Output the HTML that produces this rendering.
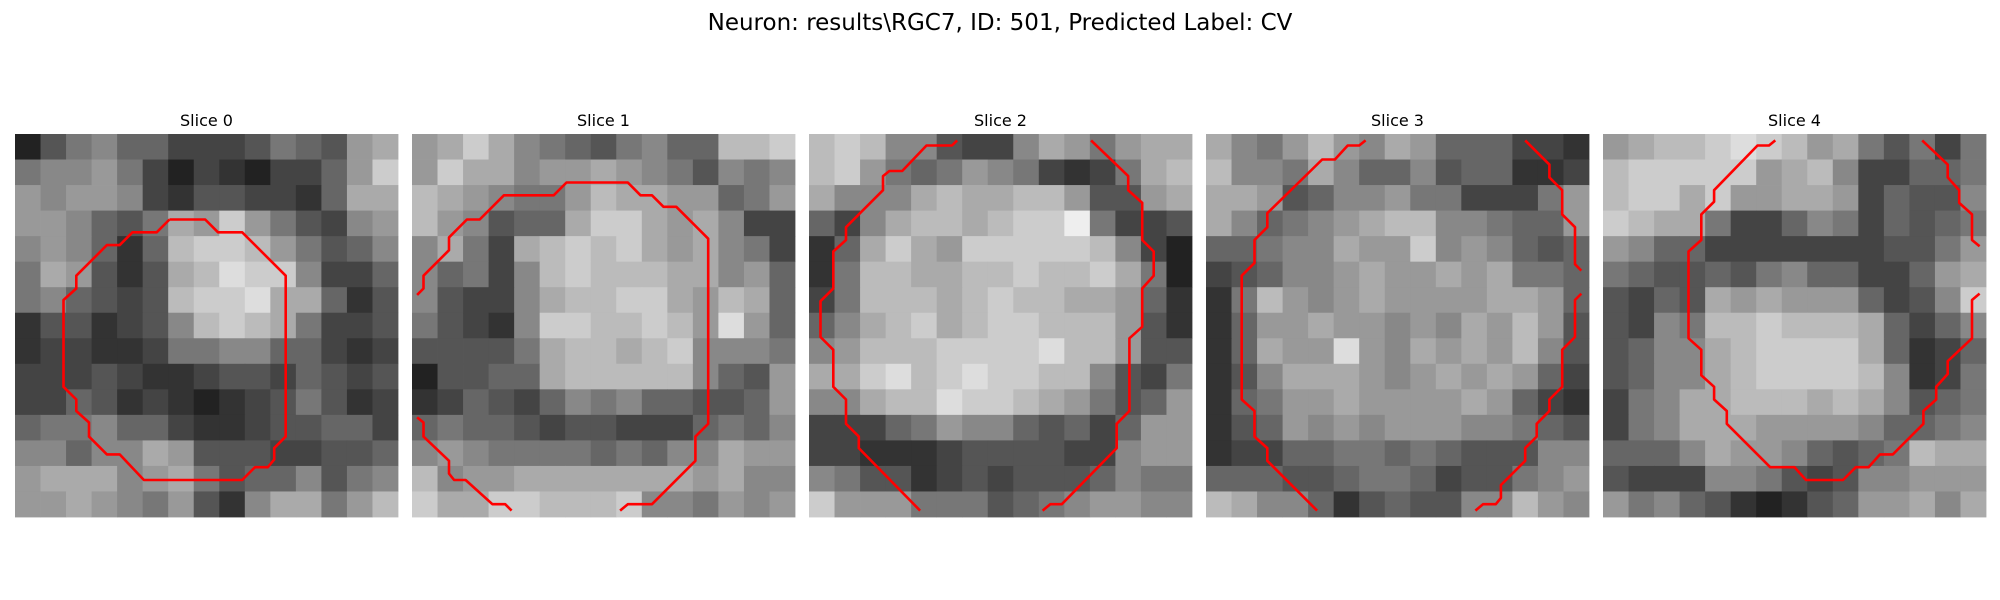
<!DOCTYPE html>
<html><head><meta charset="utf-8"><style>
html,body{margin:0;padding:0;background:#fff;width:2000px;height:600px;overflow:hidden}
svg{display:block}
text{font-family:"DejaVu Sans","Liberation Sans",sans-serif;fill:#000}
</style></head><body>
<svg id="fig" width="2000" height="600" viewBox="0 0 2000 600">
<text x="1000" y="30" text-anchor="middle" font-size="23">Neuron: results\RGC7, ID: 501, Predicted Label: CV</text>
</svg>
<script>
const sliceTitles = ["Slice 0","Slice 1","Slice 2","Slice 3","Slice 4"];
const img0 = ["25786644457659a","78897424324469c","9899843554436aa","998657a9c975489","898636bccb97568","7a9535abdcc8446","786545bccdaa635","3553458bcba7445","344334778866434","444543345546545","446534323457534","677866433455664","88688a955544556","9aaa89a75668578","99a9879538aa79b"];
const img1 = ["9aca87657866bbc","9caa899a9875878","ba98779baa99679","b98566acca9a844","8a74abcbca9a874","86748bcbbbaa896","85448abbcca9ba6","75438ccbbcb9d96","55557abbabc8887","25566abbbbb8659","346546878665569","676654554446768","898777767688a99","b899aaaaaaa9a88","caaccbbbc887989"];
const img2 = ["bcb885448a979aa","bc97679874347ab","a888abaabb9559a","648abbabcce7445","36aca9cccccb842","37bbaabbcbbca72","47bbbabcbbaa963","68abcabccbbb953","89bbbccccdbb955","aacdbcdccbb8547","88abbdccba97569","444679886564699","443334555544899","875534545556877","c99977756789988"];
const img3 = ["a879b98a9666443","b887a8668566334","aa9568897744479","a86789abb887669","66788a99c898656","456889a99a9a776","37b989a9999aa96","3699a99898a9b95","36a99d98a9a9b85","358aaa989a9a964","36799a9999a9643","356989899988765","344667767655588","666556776455789","ba8863565588b98"];
const img4 = ["9abbcdcb9a75747","bccccc9ab844667","bccac99aa946558","cbaa74468746567","986644444445579","76556578664469a","5465a9a9996458c","5487bbcbbba6468","5688abcccca6346","5688abccccb8347","478aabbbaba8567","478aaa999986678","6668a9986567baa","544488754588999","978653235699a8a"];
const c0 = [[[12.1,6.7],[14.9,6.7],[15.9,7.7],[17.8,7.7],[21.2,11.1],[21.2,23.7],[20.3,24.6],[20.3,25.5],[19.8,26.1],[18.8,26.1],[17.8,27.1],[10.1,27.1],[8.2,25.1],[7.2,25.1],[5.8,23.7],[5.8,22.6],[4.8,21.7],[4.8,20.8],[3.8,19.8],[3.8,13.0],[4.8,12.1],[4.8,11.1],[7.2,8.7],[8.2,8.7],[9.2,7.7],[11.1,7.7],[12.1,6.7]]];
const c1 = [[[0.4,12.6],[0.9,12.1],[0.9,11.1],[2.9,9.1],[2.9,8.1],[4.3,6.7],[5.3,6.7],[7.2,4.8],[11.1,4.8],[12.1,3.8],[16.9,3.8],[17.9,4.8],[18.8,4.8],[19.7,5.7],[20.7,5.7],[23.2,8.2],[23.2,22.7],[22.2,23.7],[22.2,25.6],[18.8,29.0],[16.9,29.0],[16.3,29.5]],
 [[0.4,22.2],[0.9,22.6],[0.9,23.7],[2.9,25.6],[2.9,26.6],[3.3,27.1],[4.2,27.1],[6.3,29.0],[7.3,29.0],[7.8,29.5]]];
const c2 = [[[11.6,0.5],[11.2,0.9],[9.2,0.9],[7.3,2.9],[6.3,2.9],[5.8,3.3],[5.8,4.4],[2.9,7.3],[2.9,8.3],[1.9,9.2],[1.9,12.1],[0.9,13.1],[0.9,15.9],[1.9,16.9],[1.9,19.8],[2.9,20.8],[2.9,22.7],[3.9,23.7],[3.9,24.6],[8.7,29.5]],
 [[22.1,0.5],[25.0,3.3],[25.0,4.4],[26.1,5.4],[26.1,8.3],[27.0,9.2],[27.0,11.1],[26.1,12.1],[26.1,15.1],[25.1,16.0],[25.1,21.7],[24.1,22.7],[24.1,24.6],[19.8,29.0],[18.9,29.0],[18.3,29.5]]];
const c3 = [[[12.5,0.5],[12.0,0.9],[11.1,0.9],[10.1,2.0],[9.1,2.0],[4.8,6.2],[4.8,7.3],[3.8,8.3],[3.8,10.1],[2.8,11.1],[2.8,20.8],[3.8,21.7],[3.8,23.7],[4.8,24.6],[4.8,25.6],[8.7,29.5]],
 [[25.0,0.5],[26.9,2.4],[26.9,3.4],[27.9,4.4],[27.9,6.3],[28.9,7.3],[28.9,10.2],[29.4,10.7]],
 [[29.4,12.5],[28.9,13.0],[28.9,15.9],[27.9,16.9],[27.9,19.8],[26.9,20.8],[26.9,21.7],[25.9,22.7],[25.9,23.7],[25.0,24.6],[25.0,25.6],[23.1,27.5],[23.1,28.5],[22.7,29.0],[21.7,29.0],[21.1,29.5]]];
const c4 = [[[13.5,0.5],[13.0,0.9],[12.1,0.9],[8.7,4.4],[8.7,5.3],[7.7,6.3],[7.7,8.3],[6.7,9.2],[6.7,16.0],[7.7,16.9],[7.7,18.9],[8.7,19.8],[8.7,20.8],[9.7,21.7],[9.7,22.7],[13.1,26.1],[15.0,26.1],[15.9,27.1],[18.8,27.1],[19.8,26.1],[20.8,26.1],[21.7,25.1],[22.7,25.1],[25.1,22.7],[25.1,21.7],[26.1,20.8],[26.1,19.8],[27.0,18.8],[27.0,17.8],[28.9,16.0],[28.9,13.0],[29.5,12.5]],
 [[25.0,0.5],[27.0,2.4],[27.0,3.4],[27.9,4.4],[27.9,5.4],[28.9,6.3],[28.9,8.3],[29.5,8.8]]];
const images = [img0,img1,img2,img3,img4];
const contours = [c0,c1,c2,c3,c4];

const NS = "http://www.w3.org/2000/svg";
const svg = document.getElementById('fig');
const panelLeft = i => 15 + i * 397;
const panelTop = 134, panelSize = 383, gridN = 30;
const sx = (i, v) => panelLeft(i) + v * panelSize / gridN;
const sy = v => panelTop + v * panelSize / gridN;

images.forEach((img, p) => {
  const g = document.createElementNS(NS, 'g');
  
  
  svg.appendChild(g);
  const t = document.createElementNS(NS, 'text');
  
  
  t.setAttribute('x', panelLeft(p) + panelSize / 2);
  t.setAttribute('y', 126);
  t.setAttribute('text-anchor', 'middle');
  t.setAttribute('font-size', '16');
  t.textContent = sliceTitles[p];
  g.appendChild(t);
  const blk = gridN / img.length;
  img.forEach((row, r) => {
    for (let c = 0; c < row.length; c++) {
      const v = parseInt(row[c], 16) * 17;
      const rc = document.createElementNS(NS, 'rect');
      
      
      const x0 = sx(p, c * blk), y0 = sy(r * blk);
      rc.setAttribute('x', x0);
      rc.setAttribute('y', y0);
      rc.setAttribute('width', sx(p, (c + 1) * blk) - x0 + 0.4);
      rc.setAttribute('height', sy((r + 1) * blk) - y0 + 0.4);
      rc.setAttribute('fill', `rgb(${v},${v},${v})`);
      g.appendChild(rc);
    }
  });
  contours[p].forEach((seg, k) => {
    const pl = document.createElementNS(NS, 'polyline');
    
    
    pl.setAttribute('points', seg.map(pt => sx(p, pt[0]).toFixed(1) + ',' + sy(pt[1]).toFixed(1)).join(' '));
    pl.setAttribute('fill', 'none');
    pl.setAttribute('stroke', '#ff0000');
    pl.setAttribute('stroke-width', '2.6');
    pl.setAttribute('stroke-linejoin', 'round');
    g.appendChild(pl);
  });
});
</script>
</body></html>
